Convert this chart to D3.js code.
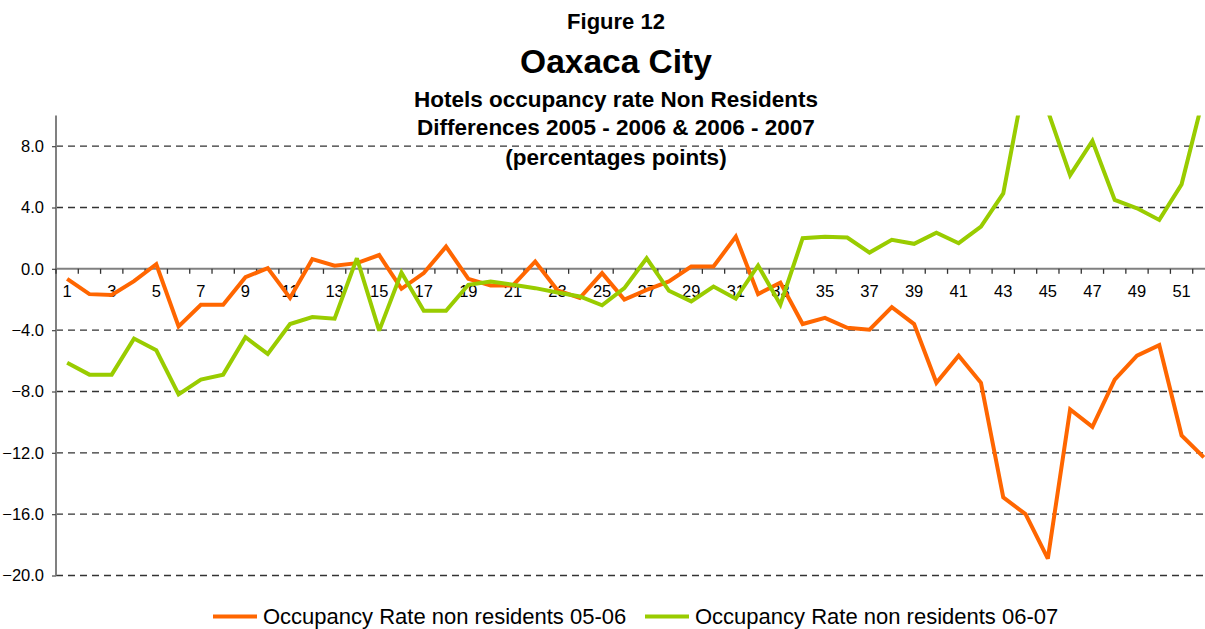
<!DOCTYPE html>
<html>
<head>
<meta charset="utf-8">
<script src="https://cdn.jsdelivr.net/npm/d3@7"></script>
<style>
  html, body { margin: 0; padding: 0; background: #fff; overflow: hidden; }
  svg { display: block; font-family: "Liberation Sans", Arial, sans-serif; }
</style>
</head>
<body>
<svg id="chart" width="1205" height="629"></svg>
<script>
// ---- data ----
const weeks = d3.range(1, 53);
const series0506 = [-0.65, -1.65, -1.7, -0.8, 0.3, -3.75, -2.35, -2.35, -0.55, 0.05,
  -1.9, 0.63, 0.2, 0.37, 0.9, -1.3, -0.28, 1.45, -0.65, -1.08,
  -1.08, 0.48, -1.4, -1.9, -0.28, -2.0, -1.37, -0.82, 0.15, 0.15,
  2.1, -1.65, -0.9, -3.6, -3.2, -3.85, -3.97, -2.5, -3.6, -7.43,
  -5.66, -7.43, -14.9, -16.0, -18.9, -9.17, -10.3, -7.22, -5.66, -4.98,
  -10.86, -12.3];
const series0607 = [-6.13, -6.9, -6.9, -4.55, -5.31, -8.19, -7.22, -6.9, -4.46, -5.55,
  -3.6, -3.14, -3.25, 0.69, -4.03, -0.24, -2.73, -2.73, -1.04, -0.82,
  -1.04, -1.26, -1.54, -1.8, -2.38, -1.26, 0.69, -1.43, -2.12, -1.15,
  -1.95, 0.22, -2.34, 2.0, 2.1, 2.04, 1.06, 1.89, 1.63, 2.36,
  1.67, 2.75, 4.92, 12.6, 10.3, 6.11, 8.34, 4.49, 3.95, 3.19,
  5.51, 11.3];
const seriesNames = ["Occupancy Rate non residents 05-06", "Occupancy Rate non residents 06-07"];
const seriesColors = ["#FF6600", "#99CC00"];
const yTicks = [-20, -16, -12, -8, -4, 0, 4, 8];
const xLabelWeeks = weeks.filter(w => w % 2 === 1);
const titleLines = ["Figure 12", "Oaxaca City", "Hotels occupancy rate Non Residents",
  "Differences 2005 - 2006 & 2006 - 2007", "(percentages points)"];

// ---- layout ----
const svg = d3.select("#chart");
const plot = { left: 56, right: 1215, top: 115.5, bottom: 575.5 };

const x = d3.scaleBand().domain(weeks).range([plot.left, plot.right]).padding(0);
const y = d3.scaleLinear().domain([-20, 10]).range([plot.bottom, plot.top]);
const cx = d => x(d) + x.bandwidth() / 2;

// clip
svg.append("defs").append("clipPath").attr("id", "clip")
  .append("rect").attr("x", plot.left).attr("y", plot.top)
  .attr("width", plot.right - plot.left).attr("height", plot.bottom - plot.top);

// gridlines
svg.append("g").selectAll("line").data(yTicks.filter(t => t !== 0)).join("line")
  .attr("x1", plot.left).attr("x2", plot.right)
  .attr("y1", d => y(d)).attr("y2", d => y(d))
  .attr("stroke", "#333").attr("stroke-width", 1.3).attr("stroke-dasharray", "7,5");

// y axis
const yAxis = svg.append("g").attr("transform", `translate(${plot.left},0)`)
  .call(d3.axisLeft(y).tickValues(yTicks).tickFormat(d3.format(".1f")).tickSize(4).tickPadding(8));
yAxis.select(".domain").attr("stroke", "#808080").attr("stroke-width", 2)
  .attr("d", `M0,${plot.top}V${plot.bottom}`);
yAxis.selectAll(".tick line").attr("stroke", "#555").attr("stroke-width", 1.3);
yAxis.selectAll(".tick text").attr("font-size", 16.5).attr("fill", "#000")
  .attr("font-family", "Liberation Sans, Arial, sans-serif");

// x axis at zero
const x0 = y(0);
svg.append("line").attr("x1", plot.left).attr("x2", plot.right)
  .attr("y1", x0).attr("y2", x0).attr("stroke", "#808080").attr("stroke-width", 2);
svg.append("g").selectAll("line").data(weeks.concat([null])).join("line")
  .attr("x1", d => d === null ? plot.right : x(d))
  .attr("x2", d => d === null ? plot.right : x(d))
  .attr("y1", x0).attr("y2", x0 + 5)
  .attr("stroke", "#333").attr("stroke-width", 1.3);
const xAxis = svg.append("g").attr("transform", `translate(0,${x0})`)
  .call(d3.axisBottom(x).tickValues(xLabelWeeks).tickSize(0).tickPadding(16));
xAxis.select(".domain").remove();
xAxis.selectAll(".tick text").attr("font-size", 16.5).attr("fill", "#000")
  .attr("font-family", "Liberation Sans, Arial, sans-serif");

// lines
const line = d3.line().x((d, i) => cx(weeks[i])).y(d => y(d));
const g = svg.append("g").attr("clip-path", "url(#clip)");
[series0506, series0607].forEach((s, i) => {
  g.append("path").datum(s).attr("d", line).attr("fill", "none")
    .attr("stroke", seriesColors[i]).attr("stroke-width", 4)
    .attr("stroke-linejoin", "miter").attr("stroke-miterlimit", 3);
});

// titles
const tSizes = [22, 33.5, 22.5, 22.5, 22.5];
const tBase = [29, 73, 107, 135, 165];
svg.append("g").selectAll("text").data(titleLines).join("text")
  .attr("x", 616).attr("y", (d, i) => tBase[i])
  .attr("text-anchor", "middle").attr("font-weight", "bold")
  .attr("font-size", (d, i) => tSizes[i]).attr("fill", "#000").text(d => d);

// legend
const legX = [213, 645];
const leg = svg.append("g");
seriesNames.forEach((n, i) => {
  leg.append("line").attr("x1", legX[i]).attr("x2", legX[i] + 44)
    .attr("y1", 616.5).attr("y2", 616.5)
    .attr("stroke", seriesColors[i]).attr("stroke-width", 4);
  leg.append("text").attr("x", legX[i] + 50).attr("y", 624)
    .attr("font-size", 22).attr("fill", "#000").text(n);
});
</script>
</body>
</html>
